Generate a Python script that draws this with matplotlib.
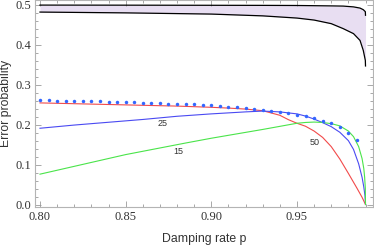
import numpy as np
import matplotlib
matplotlib.use("Agg")
import matplotlib.pyplot as plt
from matplotlib.ticker import MultipleLocator

# band (upper / lower bound)
p_band = [0.80, 0.85, 0.90, 0.93, 0.95, 0.96, 0.97, 0.977, 0.983, 0.9868, 0.9887, 0.9899, 0.990]
band_hi = [0.4995, 0.4993, 0.499, 0.4988, 0.4985, 0.498, 0.4975, 0.497, 0.495, 0.492, 0.488, 0.483, 0.474]
band_lo = [0.482, 0.480, 0.477, 0.4725, 0.467, 0.462, 0.453, 0.4405, 0.428, 0.411, 0.386, 0.361, 0.347]

# curve n=50 (red)
p_50 = [0.80, 0.82, 0.84, 0.86, 0.88, 0.90, 0.91, 0.92, 0.93, 0.94, 0.945, 0.95, 0.955,
        0.96, 0.965, 0.97, 0.975, 0.98, 0.985, 0.988, 0.990]
e_50 = [0.2545, 0.2525, 0.2505, 0.2485, 0.2465, 0.2435, 0.2415, 0.239, 0.235, 0.2235, 0.2125, 0.2035, 0.196,
        0.184, 0.168, 0.145, 0.114, 0.078, 0.041, 0.018, 0.0]

# curve n=25 (blue)
p_25 = [0.80, 0.82, 0.84, 0.86, 0.88, 0.90, 0.92, 0.93, 0.94, 0.95, 0.955, 0.96, 0.965,
        0.97, 0.975, 0.98, 0.983, 0.986, 0.988, 0.989, 0.9897, 0.990]
e_25 = [0.191, 0.199, 0.206, 0.213, 0.221, 0.227, 0.232, 0.234, 0.232, 0.227, 0.2215, 0.214, 0.205,
        0.195, 0.181, 0.160, 0.138, 0.102, 0.068, 0.044, 0.022, 0.0]

# curve n=15 (green)
p_15 = [0.80, 0.85, 0.885, 0.90, 0.93, 0.95, 0.955, 0.96, 0.965, 0.97, 0.975, 0.98,
        0.983, 0.986, 0.988, 0.989, 0.9895, 0.9899, 0.990]
e_15 = [0.076, 0.125, 0.154, 0.166, 0.188, 0.2035, 0.2055, 0.2065, 0.2055, 0.2025, 0.197, 0.184,
        0.170, 0.145, 0.115, 0.090, 0.068, 0.040, 0.0]

# dotted reference points
p_dots = [0.800, 0.805, 0.810, 0.815, 0.820, 0.825, 0.830, 0.835, 0.840, 0.845, 0.850, 0.855,
          0.860, 0.865, 0.870, 0.875, 0.880, 0.885, 0.890, 0.895, 0.900, 0.905, 0.910, 0.915,
          0.920, 0.925, 0.930, 0.935, 0.940, 0.945, 0.950, 0.955, 0.960, 0.965, 0.970, 0.975,
          0.980, 0.985]
e_dots = [0.261, 0.261, 0.2605, 0.260, 0.260, 0.2595, 0.259, 0.2585, 0.258, 0.2575, 0.257, 0.256,
          0.2555, 0.255, 0.254, 0.253, 0.2525, 0.2515, 0.2505, 0.249, 0.248, 0.2465, 0.245, 0.2435,
          0.2415, 0.239, 0.2365, 0.234, 0.231, 0.228, 0.2245, 0.2205, 0.2155, 0.2095, 0.203, 0.1945,
          0.180, 0.161]

fig = plt.figure(figsize=(3.74, 2.46), dpi=100)
ax = fig.add_axes([35/374, 39/246, 337.7/374, 206.5/246])

ax.fill_between(p_band, band_lo, band_hi, color='#e8def2', lw=0)
ax.plot(p_band, band_hi, color='black', lw=0.9)
ax.plot(p_band, band_lo, color='black', lw=0.9)

ax.plot(p_50, e_50, color='#f24a4a', lw=0.8)
ax.plot(p_25, e_25, color='#4a4af2', lw=0.8)
ax.plot(p_15, e_15, color='#4ae44a', lw=0.8)
ax.plot(p_dots, e_dots, ls='none', marker='o', ms=2.5, color='#3366ff', mew=0)

ax.text(0.8715, 0.2035, '25', fontsize=6.5, family='Liberation Sans', color='#333333', ha='center', va='center')
ax.text(0.8805, 0.1325, '15', fontsize=6.5, family='Liberation Sans', color='#333333', ha='center', va='center')
ax.text(0.9605, 0.1560, '50', fontsize=6.5, family='Liberation Sans', color='#333333', ha='center', va='center')

ax.set_xlim(0.7971, 0.9942)
ax.set_ylim(-0.00625, 0.511)

ax.xaxis.set_major_locator(MultipleLocator(0.05))
ax.xaxis.set_minor_locator(MultipleLocator(0.01))
ax.yaxis.set_major_locator(MultipleLocator(0.1))
ax.yaxis.set_minor_locator(MultipleLocator(0.02))
ax.xaxis.set_major_formatter(plt.FuncFormatter(lambda v, _: f'{v:.2f}'))
ax.yaxis.set_major_formatter(plt.FuncFormatter(lambda v, _: f'{v:.1f}'))

for s in ax.spines.values():
    s.set_color('#b4b4b4')
    s.set_linewidth(0.8)
ax.tick_params(which='both', direction='in', top=True, right=True, color='#9a9a9a', width=0.6)
ax.tick_params(which='major', length=4, labelsize=9, labelcolor='#333333', pad=3,
               labelfontfamily='Liberation Serif')
ax.tick_params(which='minor', length=2)

ax.set_xlabel('Damping rate p', fontsize=8.8, family='Liberation Sans', color='#333333', labelpad=7)
ax.set_ylabel('Error probability', fontsize=8.8, family='Liberation Sans', color='#333333', labelpad=2)

fig.savefig('out.png', dpi=100)
